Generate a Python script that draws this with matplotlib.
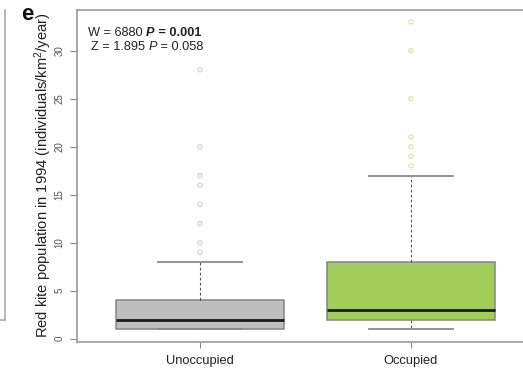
import matplotlib
matplotlib.use("Agg")
import matplotlib.pyplot as plt
from matplotlib.lines import Line2D

plt.rcParams["font.family"] = ["Liberation Sans", "DejaVu Sans"]
plt.rcParams["mathtext.fontset"] = "custom"
plt.rcParams["mathtext.rm"] = "Liberation Sans"
plt.rcParams["mathtext.it"] = "Liberation Sans:italic"
plt.rcParams["mathtext.bf"] = "Liberation Sans:bold"

# box statistics
groups = ["Unoccupied", "Occupied"]
whislo = [1, 1]
q1 = [1, 2]
med = [2, 3]
q3 = [4, 8]
whishi = [8, 17]
fliers = [
    [9, 10, 12, 14, 16, 17, 20, 28],
    [18, 19, 20, 21, 25, 30, 33],
]
box_colors = ["#bebebe", "#a2cd5a"]
flier_colors = ["#d3d3d3", "#d2e6ad"]
y_ticks = [0, 5, 10, 15, 20, 25, 30]

# test results, each line as (text, weight, style) pieces
stat_lines = [
    [("W = 6880 ", "normal", "normal"), ("P", "bold", "italic"), (" = 0.001", "bold", "normal")],
    [("Z = 1.895 ", "normal", "normal"), ("P", "normal", "italic"), (" = 0.058", "normal", "normal")],
]

W, H = 523, 370
fig = plt.figure(figsize=(W / 100, H / 100), dpi=100)
ax = fig.add_axes([77 / W, 1 - 341.5 / H, (528 - 77) / W, (341.5 - 9.5) / H])

stats = []
for i, g in enumerate(groups):
    stats.append(dict(label=g, whislo=whislo[i], q1=q1[i], med=med[i],
                      q3=q3[i], whishi=whishi[i], fliers=[]))

bp = ax.bxp(stats, positions=[1, 2], widths=0.8, patch_artist=True,
            showfliers=False,
            boxprops=dict(edgecolor="#858585", linewidth=1.1),
            medianprops=dict(color="#1a1a1a", linewidth=2.0),
            whiskerprops=dict(color="#555555", linewidth=0.8, linestyle=(0, (2.5, 2))),
            capprops=dict(color="#8a8a8a", linewidth=1.3))
for patch, c in zip(bp["boxes"], box_colors):
    patch.set_facecolor(c)
for cap in bp["caps"]:
    xd = cap.get_xdata()
    mid = (xd[0] + xd[1]) / 2
    cap.set_xdata([mid - 0.2, mid + 0.2])

for i, fl in enumerate(fliers):
    ax.scatter([i + 1] * len(fl), fl, s=9, facecolors="none",
               edgecolors=flier_colors[i], linewidths=0.9, zorder=3)

ax.set_xlim(0.417, 2.555)
ax.set_ylim(-0.28, 34.28)
ax.set_yticks(y_ticks)
ax.set_yticklabels([str(t) for t in y_ticks], rotation=90, va="center",
                   fontsize=7, color="#555555")
ax.set_xticks([1, 2])
ax.set_xticklabels(groups, fontsize=9.3, color="#222222")
ax.tick_params(axis="y", length=5, width=0.8, color="#888888", pad=4)
ax.tick_params(axis="x", length=4, width=0.8, color="#888888", pad=6)

for s in ["left", "top", "bottom"]:
    ax.spines[s].set_color("#999999")
    ax.spines[s].set_linewidth(1.2)
ax.spines["right"].set_visible(False)

fig.text(43 / W, 1 - 175 / H,
         "Red kite population in 1994 (individuals/km$^2$/year)",
         rotation=90, ha="center", va="center", fontsize=10.6, color="#222222")
fig.text(27 / W, 1 - 15 / H, "e", ha="center", va="center",
         fontsize=16, fontweight="bold", color="#111111")

# stats text, built piece by piece
starts = [(88, 33), (91, 47)]
for (x0, y0), pieces in zip(starts, stat_lines):
    prev = None
    for txt, wt, st in pieces:
        if prev is None:
            prev = fig.text(x0 / W, 1 - y0 / H, txt, fontsize=9.2, fontweight=wt,
                            fontstyle=st, ha="left", va="center", color="#222222")
        else:
            prev = ax.annotate(txt, xy=(1, 0), xycoords=prev, fontsize=9.2,
                               fontweight=wt, fontstyle=st, ha="left", va="bottom",
                               color="#222222", annotation_clip=False)

# edge of the neighbouring panel
fig.add_artist(Line2D([5 / W, 5 / W], [1 - 10 / H, 1 - 320 / H],
                      transform=fig.transFigure, color="#aaaaaa", linewidth=1.2))
fig.add_artist(Line2D([0, 5 / W], [1 - 320 / H, 1 - 320 / H],
                      transform=fig.transFigure, color="#aaaaaa", linewidth=1.2))

fig.savefig("out.png", dpi=100)
